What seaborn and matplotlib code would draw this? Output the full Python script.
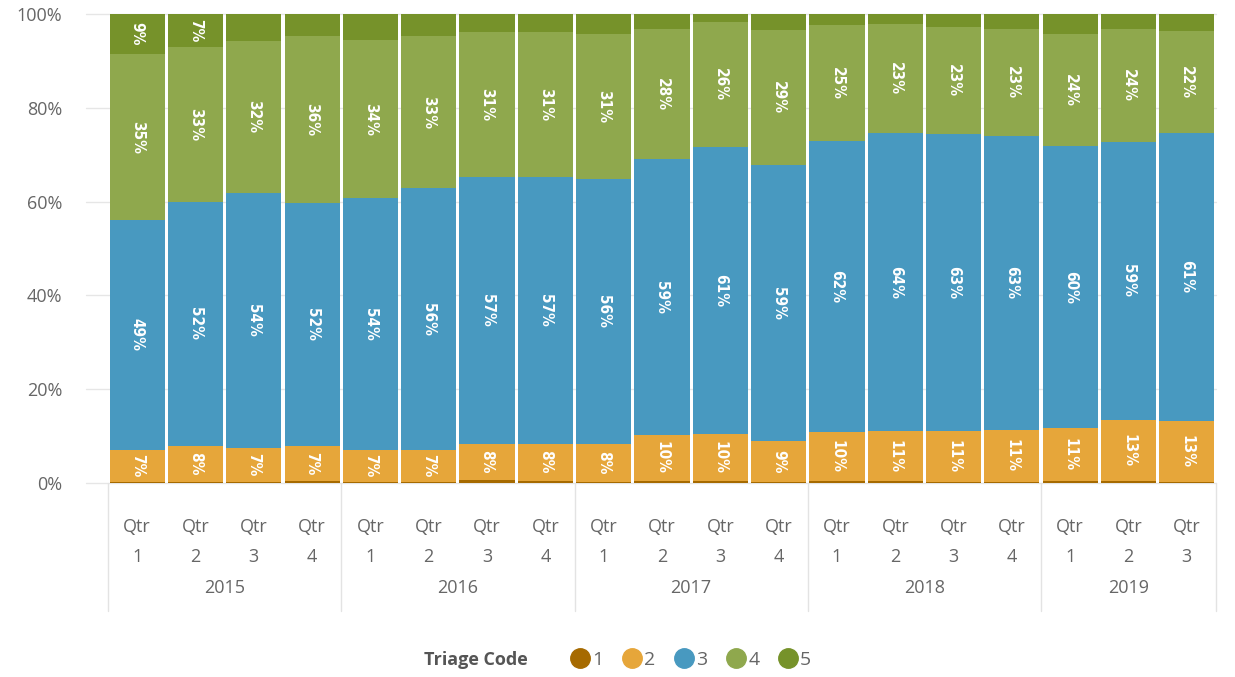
import numpy as np
import pandas as pd
import matplotlib
matplotlib.use("Agg")
import matplotlib.pyplot as plt
import matplotlib.transforms as mtransforms
from matplotlib.lines import Line2D
import seaborn as sns

# ---------------- data ----------------
years = ["2015"] * 4 + ["2016"] * 4 + ["2017"] * 4 + ["2018"] * 4 + ["2019"] * 3
quarters = [1, 2, 3, 4] * 4 + [1, 2, 3]
code1 = [0.2, 0.2, 0.2, 0.5, 0.2, 0.3, 0.6, 0.5, 0.3, 0.5, 0.5, 0.3, 0.4, 0.4, 0.3, 0.3, 0.4, 0.4, 0.3]
code2 = [6.9, 7.7, 7.3, 7.4, 6.8, 6.8, 7.7, 7.9, 8.1, 9.8, 9.9, 8.6, 10.4, 10.6, 10.7, 11.1, 11.3, 13.1, 13.0]
code3 = [49.0, 52.1, 54.4, 51.8, 53.8, 55.7, 57.0, 56.9, 56.4, 58.7, 61.3, 58.9, 62.1, 63.6, 63.4, 62.6, 60.2, 59.2, 61.3]
code4 = [35.3, 33.0, 32.4, 35.6, 33.6, 32.6, 30.9, 30.8, 30.9, 27.8, 26.5, 28.8, 24.8, 23.2, 22.9, 22.8, 23.8, 24.1, 21.8]
code5 = [8.6, 7.0, 5.7, 4.7, 5.6, 4.6, 3.8, 3.9, 4.3, 3.2, 1.8, 3.4, 2.3, 2.2, 2.7, 3.2, 4.3, 3.2, 3.6]
codes = ["1", "2", "3", "4", "5"]
colors = ["#A66A00", "#E6A63A", "#4899C0", "#8FA84D", "#76922A"]
yticks = [0, 20, 40, 60, 80, 100]

# ---------------- figure ----------------
sns.set_theme(style="white")
plt.rcParams["font.family"] = ["Open Sans", "DejaVu Sans"]

fig = plt.figure(figsize=(12.35, 6.77), dpi=100)
L, R, B, T = 108 / 1235, 1216 / 1235, 1 - 483 / 677, 1 - 14 / 677
ax = fig.add_axes([L, B, R - L, T - B])

periods = [f"{y} Q{q}" for y, q in zip(years, quarters)]
df = pd.DataFrame({"period": periods, "1": code1, "2": code2, "3": code3, "4": code4, "5": code5})
cum = df[codes].cumsum(axis=1)

n = len(periods)
# gridlines (behind bars, extend a bit to the left)
for yv in yticks:
    ax.plot([-0.88, n - 0.5], [yv, yv], color="#E6E6E6", lw=1, zorder=0, clip_on=False)

# stacked bars: draw cumulative totals, tallest first
for k in reversed(range(5)):
    sns.barplot(x=df["period"], y=cum[codes[k]], color=colors[k], saturation=1,
                width=0.945, errorbar=None, linewidth=0, order=periods, ax=ax, zorder=2)

# value labels
for i in range(n):
    bottom = 0
    for k, c in enumerate(codes):
        v = df.loc[i, c]
        if v >= 6.5:
            ax.text(i, bottom + v / 2, f"{round(v):.0f}%", rotation=270, ha="center", va="center",
                    color="white", fontsize=11, fontweight="bold",
                    family=["DejaVu Sans"], fontstretch="condensed", zorder=5)
        bottom += v

ax.set_xlim(-0.5, n - 0.5)
ax.set_ylim(0, 100)
ax.set_xlabel("")
ax.set_ylabel("")
ax.set_yticks(yticks)
ax.set_yticklabels([f"{t}%" for t in yticks], color="#666666", fontsize=13)
ax.tick_params(axis="y", length=0, pad=33)
ax.set_xticks([])
for s in ax.spines.values():
    s.set_visible(False)

# hierarchical x labels
trans = mtransforms.blended_transform_factory(ax.transData, ax.transAxes)
for i, q in enumerate(quarters):
    ax.text(i, -0.094, "Qtr", ha="center", va="center", color="#666666", fontsize=13, transform=trans)
    ax.text(i, -0.158, str(q), ha="center", va="center", color="#666666", fontsize=13, transform=trans)

ylist = list(dict.fromkeys(years))
start = 0
bounds = [-0.5]
for y in ylist:
    cnt = years.count(y)
    ax.text(start + (cnt - 1) / 2, -0.224, y, ha="center", va="center", color="#666666",
            fontsize=13, transform=trans)
    start += cnt
    bounds.append(start - 0.5)
for b in bounds:
    ax.plot([b, b], [0, -0.272], color="#E3E3E3", lw=1, transform=trans, clip_on=False, zorder=0)

# legend
fig.text(424 / 1235, 1 - 660 / 677, "Triage Code", ha="left", va="center", fontsize=13,
         fontweight="bold", color="#555555")
handles = [Line2D([0], [0], marker="o", linestyle="", markersize=14, markerfacecolor=c,
                  markeredgecolor=c) for c in colors]
fig.legend(handles, codes, loc="center left", bbox_to_anchor=(565 / 1235, 1 - 660 / 677),
           ncol=5, frameon=False, handletextpad=-0.1, columnspacing=0.7, handlelength=1.5,
           fontsize=14, labelcolor="#666666", borderaxespad=0, borderpad=0)

fig.savefig("out.png", dpi=100)
